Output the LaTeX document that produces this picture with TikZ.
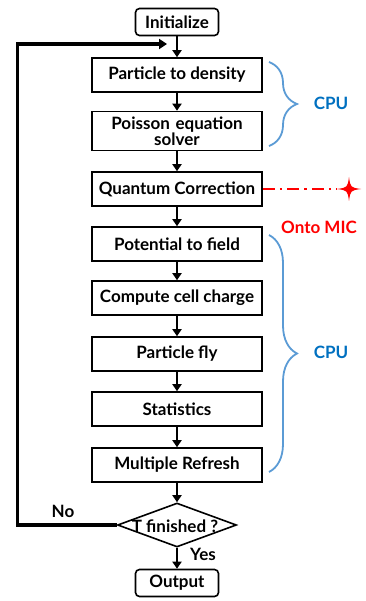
\documentclass[tikz,border=0pt]{standalone}
\usepackage{fontspec}
\setmainfont{Lato}
\usetikzlibrary{arrows.meta,shapes.geometric,decorations.pathreplacing}
\definecolor{cpublue}{RGB}{0,112,192}
\definecolor{bracecol}{RGB}{91,155,213}
\definecolor{micred}{RGB}{255,0,0}
\begin{document}
\begin{tikzpicture}[x=1pt,y=-1pt,
  lbl/.style={font=\bfseries\fontsize{17}{19}\selectfont},
  stepbox/.style={draw,line width=1.6pt,minimum width=170pt,minimum height=34pt,
    inner sep=0pt,align=center,lbl},
  endbox/.style={draw,line width=1.6pt,rounded corners=4pt,minimum width=83pt,
    minimum height=27pt,inner sep=0pt,lbl},
  flow/.style={-{Triangle[length=7pt,width=9pt]},line width=2.6pt},
  cpubrace/.style={draw=bracecol,line width=1.8pt,decorate,decoration={brace,amplitude=28pt}},
  cpulbl/.style={text=cpublue,lbl}
]
\useasboundingbox (0,0) rectangle (365,601);

% process steps
\node[endbox]  (init) at (177,22)  {Initialize};
\node[stepbox] (p2d)  at (177,75)  {Particle to density};
\node[stepbox,minimum height=39pt,text width=165pt] (pois) at (177,131) {Poisson equation\\[-3pt]solver};
\node[stepbox] (qc)   at (177,189) {Quantum Correction};
\node[stepbox] (ptf)  at (177,244) {Potential to field};
\node[stepbox] (ccc)  at (177,298) {Compute cell charge};
\node[stepbox] (fly)  at (177,354) {Particle fly};
\node[stepbox] (stat) at (177,409) {Statistics};
\node[stepbox] (mref) at (177,465) {Multiple Refresh};
\node[diamond,draw,line width=1.6pt,minimum width=119pt,minimum height=44pt,inner sep=0pt] (dec) at (177,525) {};
\node[lbl] (dectxt) at (175,526) {T finished ?};
\node[endbox]  (out)  at (177,583) {Output};

% main flow
\draw[flow] (init) -- (p2d);
\draw[flow] (p2d) -- (pois);
\draw[flow] (pois) -- (qc);
\draw[flow] (qc) -- (ptf);
\draw[flow] (ptf) -- (ccc);
\draw[flow] (ccc) -- (fly);
\draw[flow] (fly) -- (stat);
\draw[flow] (stat) -- (mref);
\draw[flow] (mref) -- (dec);
\draw[flow] (dec) -- (out);

% loop back
\coordinate (loopend) at (167,44);
\draw[-{Triangle[length=8pt,width=10pt]},line width=3.2pt] (dec.west) -- ++(-99,0) |- (loopend);
\node[lbl] (no)  at (63,511)  {No};
\node[lbl] (yes) at (203,554) {Yes};

% CPU braces
\draw[cpubrace] (269,62) -- (269,146);
\node[cpulbl] (cpu1) at (331,103) {CPU};
\draw[cpubrace] (269,235) -- (269,472);
\node[cpulbl] (cpu2) at (331,352) {CPU};

% offload to MIC
\coordinate (starc) at (349,189);
\coordinate (starw) at (337,189);
\draw[micred,line width=1.8pt,dash pattern=on 12pt off 5pt on 2.5pt off 5pt] (qc.east) -- (starw);
\fill[micred] (349,177) .. controls (350.5,187.5) .. (361,189)
  .. controls (350.5,190.5) .. (349,201)
  .. controls (347.5,190.5) .. (337,189)
  .. controls (347.5,187.5) .. (349,177) -- cycle;
\node[lbl,text=micred] (mic) at (319,227) {Onto MIC};
\end{tikzpicture}
\end{document}
